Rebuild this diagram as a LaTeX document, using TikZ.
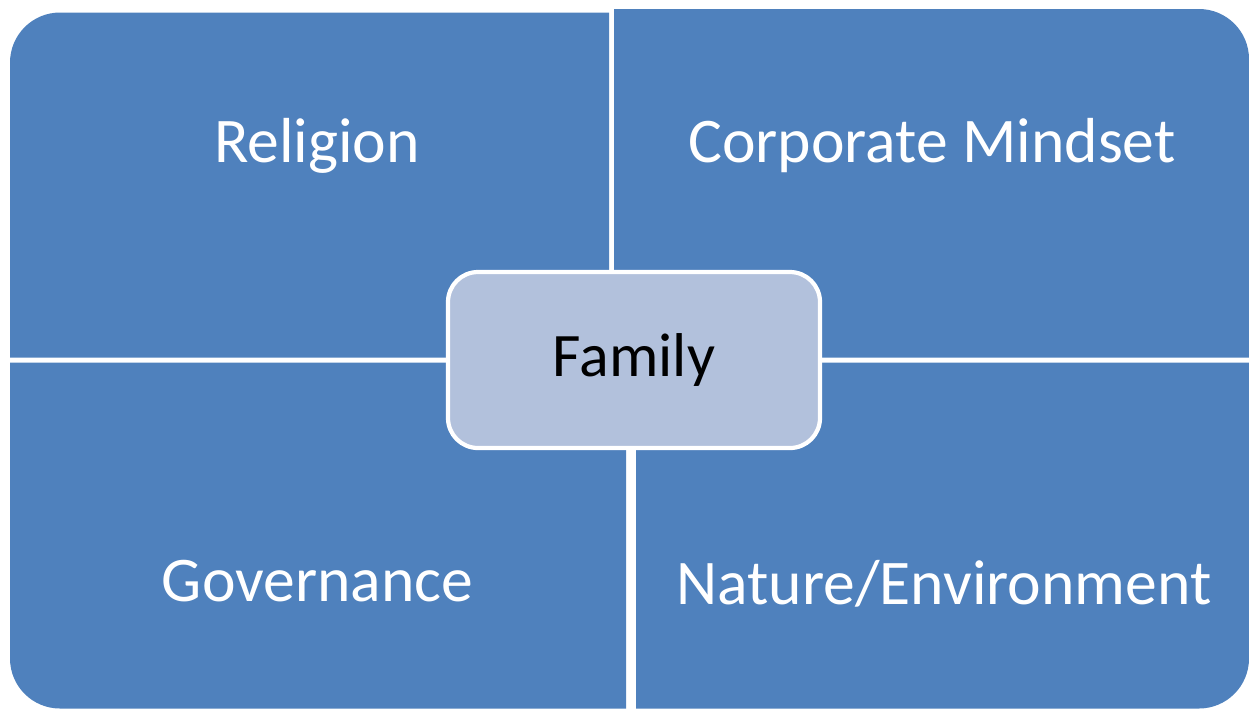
\documentclass[tikz,border=0pt]{standalone}
\usepackage{fontspec}
\setmainfont{Carlito}
\usepackage{tikz}

\definecolor{quadblue}{RGB}{79,129,189}
\definecolor{centerblue}{RGB}{178,193,220}

\begin{document}
\begin{tikzpicture}[
  quad/.style={fill=quadblue},
  label/.style={text=white,anchor=base,font=\fontsize{18.1}{22}\selectfont},
  hub/.style={draw=white,line width=1.2pt,fill=centerblue,rounded corners=0.3cm,
    minimum width=3.72cm,minimum height=1.76cm,inner sep=0pt,outer sep=0pt,
    font=\fontsize{17.6}{21}\selectfont}]
\useasboundingbox (0,0) rectangle (12.49,-7.09);

% the four quarters, each rounded only on its outer corner
\fill[quad] (0.10,-3.575) -- (0.10,-0.625) arc[start angle=180,end angle=90,radius=0.5] -- (6.09,-0.125) -- (6.09,-3.575) -- cycle;
\fill[quad] (6.14,-0.09) -- (11.99,-0.09) arc[start angle=90,end angle=0,radius=0.5] -- (12.49,-3.575) -- (6.14,-3.575) -- cycle;
\fill[quad] (0.10,-3.625) -- (6.26,-3.625) -- (6.26,-7.085) -- (0.60,-7.085) arc[start angle=270,end angle=180,radius=0.5] -- cycle;
\fill[quad] (6.36,-3.625) -- (12.49,-3.625) -- (12.49,-6.585) arc[start angle=0,end angle=-90,radius=0.5] -- (6.36,-7.085) -- cycle;

\node[label] (religion) at (3.17,-1.62) {Religion};
\node[label] (corporate) at (9.32,-1.62) {Corporate Mindset};
\node[label] (governance) at (3.175,-6.01) {Governance};
\node[label] (nature) at (9.44,-6.04) {Nature/Environment};

% centre box
\node[hub] (family) at (6.34,-3.60) {Family};
\end{tikzpicture}
\end{document}
